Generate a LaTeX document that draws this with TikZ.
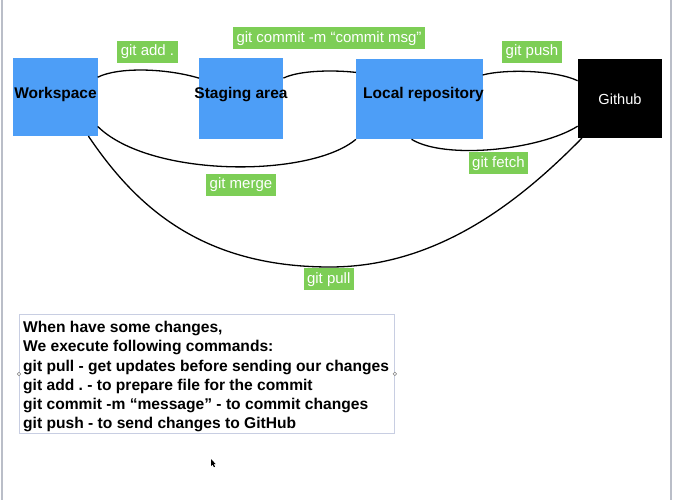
\documentclass[tikz,border=0pt]{standalone}
\usepackage{fontspec}
\setmainfont{Liberation Sans}
\frenchspacing
\definecolor{boxblue}{RGB}{77,158,247}
\definecolor{labgreen}{RGB}{125,206,86}
\definecolor{sidegray}{RGB}{186,190,200}
\definecolor{framegray}{RGB}{200,206,226}
\begin{document}
\begin{tikzpicture}[x=1pt,y=-1pt,
  stage/.style={fill=boxblue, draw=none, inner sep=0pt, outer sep=0pt},
  remote/.style={fill=black, draw=none, inner sep=0pt, outer sep=0pt},
  title/.style={font=\bfseries\fontsize{15.5}{18}\selectfont, inner sep=0pt},
  cmd/.style={fill=labgreen, text=white, font=\fontsize{15}{18}\selectfont, inner xsep=3.5pt, inner ysep=0pt, minimum height=22pt},
  link/.style={line width=1.3pt, black},
  handle/.style={circle, draw=gray, fill=white, line width=0.5pt, minimum size=3.5pt, inner sep=0pt}]
\fill[white] (0,0) rectangle (673,500);
\useasboundingbox (0,0) rectangle (673,500);
\draw[sidegray, line width=2pt] (1.5,0) -- (1.5,500);
\draw[sidegray, line width=2pt] (671,0) -- (671,500);

% boxes
\node[stage, minimum width=84.4pt, minimum height=78.3pt] (ws) at (55.5,96.9) {};
\node[stage, minimum width=84.3pt, minimum height=80.7pt] (sa) at (241.2,98.7) {};
\node[stage, minimum width=126.7pt, minimum height=80pt] (lr) at (419.3,99.3) {};
\node[remote, minimum width=84.7pt, minimum height=78.7pt] (gh) at (620,98.7) {};

\node[title] (wst) at (55.5,94) {Workspace};
\node[title] (sat) at (241,94.5) {Staging area};
\node[title] (lrt) at (423.5,94.5) {Local repository};
\node[font=\fontsize{14.6}{17}\selectfont, text=white, inner sep=0pt] (ght) at (620,99.5) {Github};

% connectors
\draw[link] (ws.25.2) .. controls (118,67) and (165,68) .. (sa.154.9);
\draw[link] (sa.26.2) .. controls (300,70) and (335,70) .. (lr.157.5);
\draw[link] (lr.21.8) .. controls (505,69) and (555,70) .. (gh.157.3);
\draw[link] (gh.213.75) .. controls (540,150) and (445,160) .. (lr.259.7);
\draw[link] (lr.south west) .. controls (310,178) and (150,178) .. (ws.-35.5);
\coordinate (pullbottom) at (330,267);
\draw[link] (gh.226.7) .. controls (523,198) and (440,267) .. (pullbottom)
  .. controls (200,267) and (135,205) .. (ws.-50.3);

% command labels
\node[cmd] (ladd) at (147.5,52) {git add .};
\node[cmd] (lcommit) at (329,38.3) {git commit -m “commit msg”};
\node[cmd] (lpush) at (532,51.7) {git push};
\node[cmd] (lfetch) at (498.5,163.3) {git fetch};
\node[cmd] (lmerge) at (241,184.7) {git merge};
\node[cmd] (lpull) at (328.7,279.5) {git pull};

% notes box
\node[draw=framegray, line width=0.8pt, anchor=north west, inner sep=0pt,
  minimum width=375pt, minimum height=119pt] (notes) at (19,314) {};
\node[anchor=north west, inner sep=0pt, align=left,
  font=\bfseries\fontsize{15.6}{19.1}\selectfont] (notestext) at (23,321.3)
  {When have some changes,\\
   We execute following commands:\\
   git pull - get updates before sending our changes\\
   git add . - to prepare file for the commit\\
   git commit -m “message” - to commit changes\\
   git push - to send changes to GitHub};
\node[handle] (hl) at (notes.west) {};
\node[handle] (hr) at (notes.east) {};

% mouse pointer
\fill[black] (211,459) -- (211,466) -- (212.6,464.7) -- (214,467.2) -- (215,466.6)
  -- (213.7,464.2) -- (215.6,464) -- cycle;
\end{tikzpicture}
\end{document}
